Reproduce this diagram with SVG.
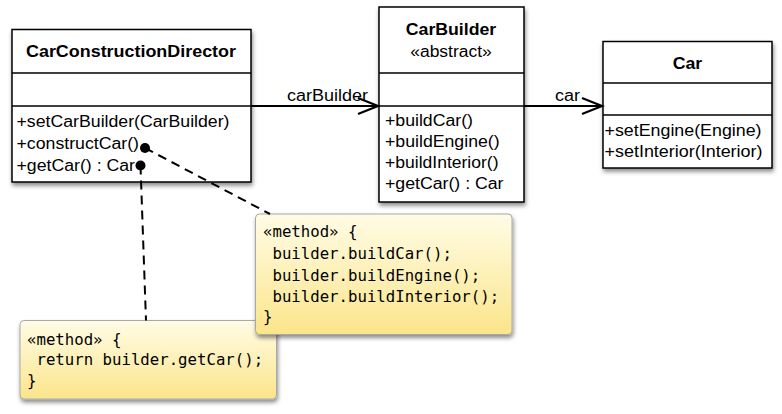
<svg xmlns="http://www.w3.org/2000/svg" width="782" height="414" viewBox="0 0 782 414">
<style>
.box{fill:#fff;stroke:#000;stroke-width:1.5}
.div{stroke:#000;stroke-width:1.3}
.t{font-family:"Liberation Sans",Arial,sans-serif;font-size:16px;fill:#000}
.b{font-weight:bold;text-anchor:middle}
.note{fill:url(#ng);stroke:#a8a8a8;stroke-width:1}
.m{font-family:"DejaVu Sans Mono",monospace;font-size:15.7px;fill:#000;white-space:pre}
.assoc{stroke:#000;stroke-width:2;fill:none;marker-end:url(#open)}
.dash{stroke:#000;stroke-width:2;stroke-dasharray:9 6;fill:none}
.dot{fill:#000}
</style>
<defs>
<linearGradient id="ng" x1="0" y1="0" x2="0" y2="1">
<stop offset="0" stop-color="#fffce6"/>
<stop offset="1" stop-color="#fbe58a"/>
</linearGradient>
<filter id="sh" x="-10%" y="-10%" width="125%" height="130%">
<feDropShadow dx="1" dy="3" stdDeviation="2.2" flood-color="#000" flood-opacity="0.45"/>
</filter>
<marker id="open" markerUnits="userSpaceOnUse" markerWidth="24" markerHeight="20" refX="21" refY="9" orient="auto" overflow="visible">
<path d="M1,1 L21,9 L1,17" fill="none" stroke="#000" stroke-width="2.2"/>
</marker>
</defs>

<g id="CarConstructionDirector">
<rect class="box" x="12" y="29.5" width="239" height="152.5" filter="url(#sh)"/>
<line class="div" x1="12" y1="73" x2="251" y2="73"/>
<line class="div" x1="12" y1="106" x2="251" y2="106"/>
<text class="t b" x="131" y="57" textLength="210" lengthAdjust="spacingAndGlyphs">CarConstructionDirector</text>
<text class="t" x="16.5" y="127" textLength="213" lengthAdjust="spacingAndGlyphs">+setCarBuilder(CarBuilder)</text>
<text class="t" x="16.5" y="149" textLength="122.5" lengthAdjust="spacingAndGlyphs">+constructCar()</text>
<text class="t" x="16.5" y="171" textLength="118.5" lengthAdjust="spacingAndGlyphs">+getCar() : Car</text>
</g>

<g id="CarBuilder">
<rect class="box" x="379" y="7" width="145" height="195" filter="url(#sh)"/>
<line class="div" x1="379" y1="73" x2="524" y2="73"/>
<line class="div" x1="379" y1="106" x2="524" y2="106"/>
<text class="t b" x="451" y="35" textLength="90.5" lengthAdjust="spacingAndGlyphs">CarBuilder</text>
<text class="t" x="451" y="57" text-anchor="middle" textLength="81.5" lengthAdjust="spacingAndGlyphs">«abstract»</text>
<text class="t" x="385" y="126" textLength="88" lengthAdjust="spacingAndGlyphs">+buildCar()</text>
<text class="t" x="385" y="147" textLength="114.6" lengthAdjust="spacingAndGlyphs">+buildEngine()</text>
<text class="t" x="385" y="168" textLength="113.5" lengthAdjust="spacingAndGlyphs">+buildInterior()</text>
<text class="t" x="385" y="189" textLength="118.5" lengthAdjust="spacingAndGlyphs">+getCar() : Car</text>
</g>

<g id="Car">
<rect class="box" x="603" y="41.5" width="169" height="126.5" filter="url(#sh)"/>
<line class="div" x1="603" y1="83" x2="772" y2="83"/>
<line class="div" x1="603" y1="115" x2="772" y2="115"/>
<text class="t b" x="687.5" y="68.5" textLength="29.5" lengthAdjust="spacingAndGlyphs">Car</text>
<text class="t" x="604.5" y="136" textLength="157" lengthAdjust="spacingAndGlyphs">+setEngine(Engine)</text>
<text class="t" x="604.5" y="157" textLength="158" lengthAdjust="spacingAndGlyphs">+setInterior(Interior)</text>
</g>

<g id="note-getCar">
<rect class="note" x="20" y="320.5" width="256.5" height="78.5" rx="4" filter="url(#sh)"/>
<text class="m" x="27" y="345">«method» {</text>
<text class="m" x="27" y="365"> return builder.getCar();</text>
<text class="m" x="27" y="385.5">}</text>
</g>

<g id="note-constructCar">
<rect class="note" x="255.5" y="214" width="256.5" height="120.5" rx="4" filter="url(#sh)"/>
<text class="m" x="263" y="237">«method» {</text>
<text class="m" x="263" y="259"> builder.buildCar();</text>
<text class="m" x="263" y="280.5"> builder.buildEngine();</text>
<text class="m" x="263" y="302"> builder.buildInterior();</text>
<text class="m" x="263" y="321.5">}</text>
</g>

<g id="connectors">
<line class="assoc" x1="251" y1="106" x2="378" y2="106"/>
<text class="t" x="287" y="101" textLength="81" lengthAdjust="spacingAndGlyphs">carBuilder</text>
<line class="assoc" x1="524" y1="106" x2="602" y2="106"/>
<text class="t" x="555" y="101" textLength="25" lengthAdjust="spacingAndGlyphs">car</text>
<line class="dash" x1="145" y1="148" x2="270" y2="214"/>
<line class="dash" x1="140.5" y1="165.5" x2="146" y2="320.5"/>
<circle class="dot" cx="145" cy="148" r="5"/>
<circle class="dot" cx="140.5" cy="165.5" r="5"/>
</g>
</svg>
